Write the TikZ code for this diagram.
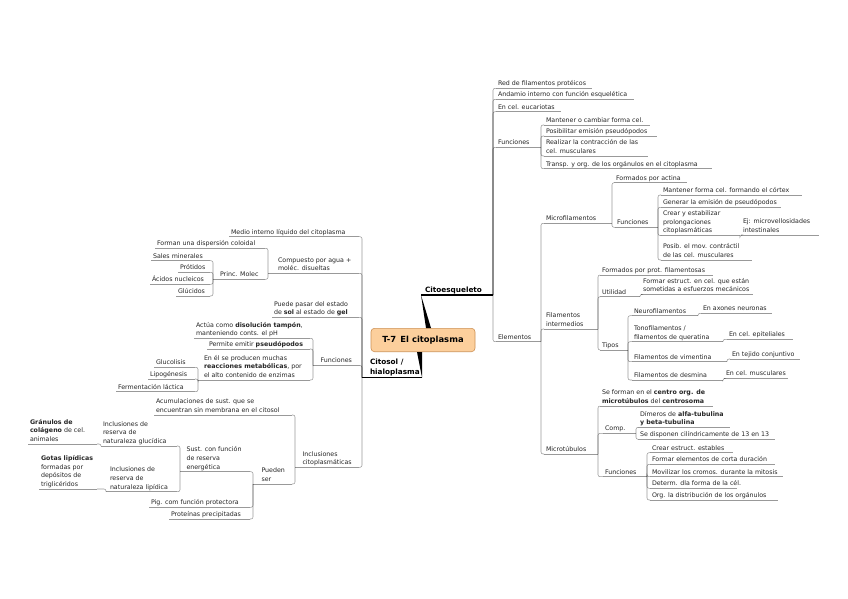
\documentclass[tikz,border=0pt]{standalone}
\usepackage{fontspec}
\setmainfont{DejaVu Sans}
\definecolor{peach}{RGB}{252,207,156}
\definecolor{peachd}{RGB}{205,145,85}
\tikzset{
 t/.style={anchor=south west, inner xsep=2pt, inner ysep=0pt, outer sep=0pt, font=\fontsize{6.3}{8.6}\selectfont, text=black!85},
 ul/.style={draw=black, draw opacity=0.4, line width=0.55pt},
 conn/.style={ul, rounded corners=2pt},
 mainul/.style={draw=black, line width=1.1pt},
 maintopic/.style={t, font=\bfseries\fontsize{7.3}{9.8}\selectfont, text=black},
 central/.style={draw=peachd, fill=peach, rounded corners=3.5pt, line width=0.6pt, font=\bfseries\fontsize{8.4}{10}\selectfont, inner sep=0pt, text=black},
}
\newcommand\T[6][0]{\pgfmathsetmacro\tw{#4-#3-4}\node[t] (#2) at (#3,#5) {\makebox[\tw pt][l]{\begin{tabular}[b]{@{\hspace{#1pt}}l@{}}#6\end{tabular}}};\draw[ul] (#2.south west) -- (#2.south east);}
\newcommand\cR[2]{\draw[conn] (#1.south east) |- (#2.south west);}
\newcommand\cL[2]{\draw[conn] (#1.south west) |- (#2.south east);}
\begin{document}
\begin{tikzpicture}[x=1pt,y=-1pt]
\fill[white] (0,0) rectangle (848,599);
\useasboundingbox (0,0) rectangle (848,599);

% central topic
\node[central, minimum width=104pt, minimum height=23.4pt] (ctr) at (423,340) {T-7\, El citoplasma};

% main topics
\node[maintopic] (cito) at (421,295) {\makebox[68pt][l]{\begin{tabular}[b]{@{\hspace{2pt}}l@{}}Citoesqueleto\end{tabular}}};
\draw[mainul] (cito.south west) -- (cito.south east);
\node[maintopic] (cit) at (362,377.5) {\makebox[56pt][l]{\begin{tabular}[b]{@{\hspace{6pt}}l@{}}Citosol /\\hialoplasma\end{tabular}}};
\draw[mainul] (cit.south west) -- (cit.south east);
\fill[black] (cito.south west) -- ([xshift=3pt]ctr.north) -- ([xshift=8pt]ctr.north) -- cycle;
\fill[black] (cit.south east) -- ([xshift=-1pt]ctr.south) -- ([xshift=-6pt]ctr.south) -- cycle;

% ---------- right side ----------
\T{red}{496}{592}{88.3}{Red de filamentos protéicos}
\T{anda}{496}{634}{99.3}{Andamio interno con función esquelética}
\T{euc}{496}{561}{111.7}{En cel. eucariotas}
\T{funR}{496}{541}{147.3}{Funciones}
\T{elem}{496}{541}{341.7}{Elementos}
\T{fa}{544}{650}{125}{Mantener o cambiar forma cel.}
\T{fb}{544}{657}{136}{Posibilitar emisión pseudópodos}
\T{fc}{544}{648}{156}{Realizar la contracción de las\\cel. musculares}
\T{fd}{544}{712}{168.7}{Transp. y org. de los orgánulos en el citoplasma}
\T{mf}{544}{612}{223.3}{Microfilamentos}
\T{fi}{544}{598}{329}{Filamentos\\intermedios}
\T{mt}{544}{598}{454}{Microtúbulos}
\T{mfa}{614}{687}{182.7}{Formados por actina}
\T{mfb}{615}{658}{227.3}{Funciones}
\T{ma}{661}{802}{195}{Mantener forma cel. formando el córtex}
\T{mb}{661}{781}{207.3}{Generar la emisión de pseudópodos}
\T{mc}{661}{740}{235.5}{Crear y estabilizar\\prolongaciones\\citoplasmáticas}
\T{mej}{741}{819}{235}{Ej: microvellosidades\\intestinales}
\T{md}{661}{752}{260}{Posib. el mov. contráctil\\de las cel. musculares}
\T{fia}{600}{713}{275}{Formados por prot. filamentosas}
\T{fib}{600}{640}{296.7}{Utilidad}
\T{fibx}{641}{753}{294.3}{Formar estruct. en cel. que están\\sometidas a esfuerzos mecánicos}
\T{fic}{600}{628}{350}{Tipos}
\T{ta}{632}{698}{315.7}{Neurofilamentos}
\T{tax}{701}{772}{313.3}{En axones neuronas}
\T{tb}{632}{723}{341.7}{Tonofilamentos /\\filamentos de queratina}
\T{tbx}{727}{793}{339.3}{En cel. epiteliales}
\T{tc}{632}{727}{361.7}{Filamentos de vimentina}
\T{tcx}{730}{800}{359}{En tejido conjuntivo}
\T{td}{632}{723}{380}{Filamentos de desmina}
\T{tdx}{724}{788}{378.3}{En cel. musculares}
\T{mta}{600}{713}{406}{Se forman en el \textbf{centro org. de}\\\textbf{microtúbulos} del \textbf{centrosoma}}
\T{mtb}{603}{636}{433.3}{Comp.}
\T{mtc}{603}{647}{476.7}{Funciones}
\T{ca}{638}{730}{427.3}{Dímeros de \textbf{alfa-tubulina}\\\textbf{y beta-tubulina}}
\T{cb}{638}{775}{439.3}{Se disponen cilíndricamente de 13 en 13}
\T{ga}{650}{733}{452.7}{Crear estruct. estables}
\T{gb}{650}{775}{464.3}{Formar elementos de corta duración}
\T{gc}{650}{783}{476.7}{Movilizar los cromos. durante la mitosis}
\T{gd}{650}{737}{488.3}{Determ. dla forma de la cél.}
\T{ge}{650}{778}{500}{Org. la distribución de los orgánulos}

\cR{cito}{red}\cR{cito}{anda}\cR{cito}{euc}\cR{cito}{funR}\cR{cito}{elem}
\cR{funR}{fa}\cR{funR}{fb}\cR{funR}{fc}\cR{funR}{fd}
\cR{elem}{mf}\cR{elem}{fi}\cR{elem}{mt}
\cR{mf}{mfa}\cR{mf}{mfb}
\cR{mfb}{ma}\cR{mfb}{mb}\cR{mfb}{mc}\cR{mfb}{md}
\cR{mc}{mej}
\cR{fi}{fia}\cR{fi}{fib}\cR{fi}{fic}
\cR{fib}{fibx}
\cR{fic}{ta}\cR{fic}{tb}\cR{fic}{tc}\cR{fic}{td}
\cR{ta}{tax}\cR{tb}{tbx}\cR{tc}{tcx}\cR{td}{tdx}
\cR{mt}{mta}\cR{mt}{mtb}\cR{mt}{mtc}
\cR{mtb}{ca}\cR{mtb}{cb}
\cR{mtc}{ga}\cR{mtc}{gb}\cR{mtc}{gc}\cR{mtc}{gd}\cR{mtc}{ge}

% ---------- left side ----------
\T{medio}{229}{359}{236.7}{Medio interno líquido del citoplasma}
\T[8]{comp}{268}{359}{273.3}{Compuesto por agua +\\moléc. disueltas}
\T{disp}{155}{265}{248.3}{Forman una dispersión coloidal}
\T[5]{princ}{213}{265}{279.3}{Princ. Molec}
\T{sales}{151}{210}{260.7}{Sales minerales}
\T{prot}{178}{210}{272.3}{Prótidos}
\T{acid}{150}{210}{284.3}{Ácidos nucleicos}
\T{gluc}{176}{210}{296}{Glúcidos}
\T{puede}{272}{359}{317.3}{Puede pasar del estado\\de \textbf{sol} al estado de \textbf{gel}}
\T[5.5]{funL}{313}{359}{365.5}{Funciones}
\T{actua}{194}{310}{338.3}{Actúa como \textbf{disolución tampón},\\manteniendo conts. el pH}
\T{perm}{207}{310}{349}{Permite emitir \textbf{pseudópodos}}
\T[4]{enel}{198}{310}{380}{En él se producen muchas\\\textbf{reacciones metabólicas}, por\\el alto contenido de enzimas}
\T{gluco}{154}{195}{367.3}{Glucolisis}
\T{lipo}{148}{195}{379}{Lipogénesis}
\T{ferm}{116}{195}{391.7}{Fermentación láctica}
\T[5.5]{incl}{295}{359}{467.3}{Inclusiones\\citoplasmáticas}
\T{acum}{154}{292}{415}{Acumulaciones de sust. que se\\encuentran sin membrana en el citosol}
\T[6.5]{pued}{253}{292}{484}{Pueden\\ser}
\T[4.5]{sust}{180}{250}{471.7}{Sust. con función\\de reserva\\energética}
\T{glucid}{101}{177}{446}{Inclusiones de\\reserva de\\naturaleza glucídica}
\T[2]{lipid}{106}{177}{491.7}{Inclusiones de\\reserva de\\naturaleza lipídica}
\T{gran}{28}{97}{444}{\textbf{Gránulos de}\\\textbf{colágeno} de cel.\\animales}
\T{gotas}{39}{97}{489}{\textbf{Gotas lipídicas}\\formadas por\\depósitos de\\triglicéridos}
\T{pig}{149}{250}{507.3}{Pig. com función protectora}
\T{protp}{169}{250}{519}{Proteínas precipitadas}

\cL{cit}{medio}\cL{cit}{comp}\cL{cit}{puede}\cL{cit}{funL}\cL{cit}{incl}
\cL{comp}{disp}\cL{comp}{princ}
\cL{princ}{sales}\cL{princ}{prot}\cL{princ}{acid}\cL{princ}{gluc}
\cL{funL}{actua}\cL{funL}{perm}\cL{funL}{enel}
\cL{enel}{gluco}\cL{enel}{lipo}\cL{enel}{ferm}
\cL{incl}{acum}\cL{incl}{pued}
\cL{pued}{sust}\cL{pued}{pig}\cL{pued}{protp}
\cL{sust}{glucid}\cL{sust}{lipid}
\cL{glucid}{gran}
\cL{lipid}{gotas}
\end{tikzpicture}
\end{document}
